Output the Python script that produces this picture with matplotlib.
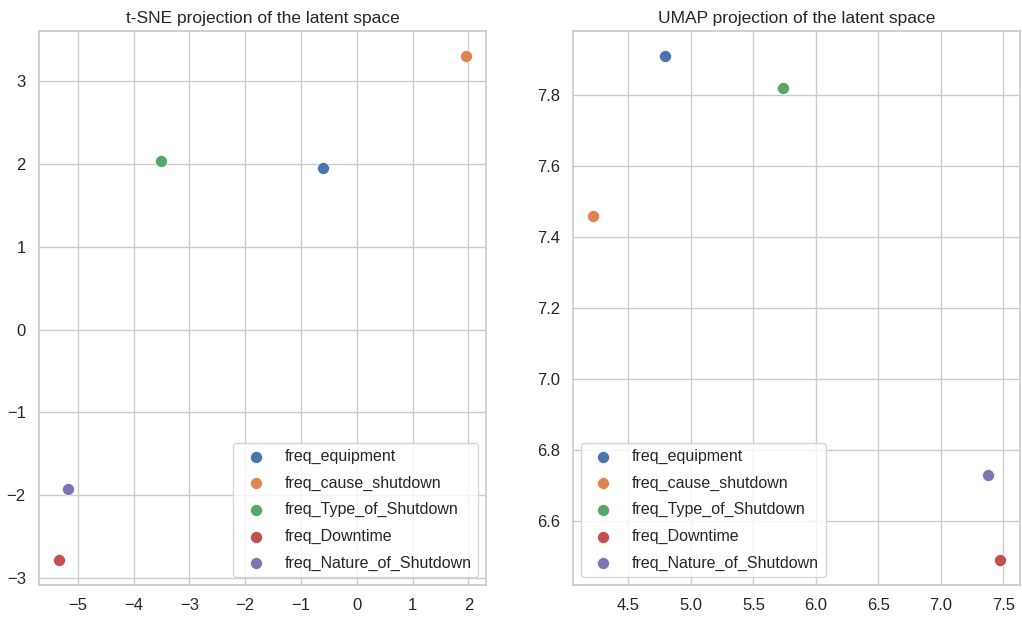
import numpy as np
import matplotlib
matplotlib.use("Agg")
import matplotlib.pyplot as plt
from matplotlib.ticker import MultipleLocator
import seaborn as sns

labels = ["freq_equipment", "freq_cause_shutdown", "freq_Type_of_Shutdown",
          "freq_Downtime", "freq_Nature_of_Shutdown"]

# t-SNE coordinates
tsne_x = [-0.6, 1.95, -3.5, -5.33, -5.17]
tsne_y = [1.95, 3.30, 2.03, -2.78, -1.93]

# UMAP coordinates
umap_x = [4.79, 4.22, 5.74, 7.47, 7.38]
umap_y = [7.91, 7.46, 7.82, 6.49, 6.73]

sns.set_theme(style="whitegrid")
plt.rcParams['font.family'] = ['Liberation Sans', 'DejaVu Sans']

colors = sns.color_palette("deep", 5)

fig, axes = plt.subplots(1, 2, figsize=(10.22, 6.18), dpi=100)
fig.subplots_adjust(left=39/1022, right=1020/1022, bottom=33/618, top=587/618, wspace=0.195)

for ax, xs, ys, title, loc in [
        (axes[0], tsne_x, tsne_y, "t-SNE projection of the latent space", "lower right"),
        (axes[1], umap_x, umap_y, "UMAP projection of the latent space", "lower left")]:
    for i, lab in enumerate(labels):
        ax.scatter(xs[i], ys[i], color=colors[i], s=75, label=lab, edgecolor="white", linewidth=0.5)
    ax.set_title(title, fontsize=12.5)
    ax.tick_params(labelsize=12)
    ax.legend(loc=loc, fontsize=11.5, labelspacing=0.72)

axes[0].xaxis.set_major_locator(MultipleLocator(1))

plt.savefig("out.png", dpi=100)
